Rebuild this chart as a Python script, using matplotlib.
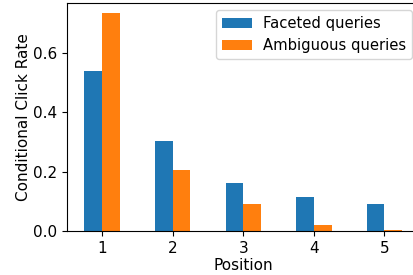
import matplotlib
matplotlib.use("Agg")
import matplotlib.pyplot as plt
import numpy as np

positions = [1, 2, 3, 4, 5]
faceted = [0.537, 0.302, 0.161, 0.114, 0.091]
ambiguous = [0.732, 0.205, 0.091, 0.020, 0.002]
series_labels = ["Faceted queries", "Ambiguous queries"]

fig = plt.figure(figsize=(4.14, 2.75), dpi=100)
ax = fig.add_axes([0.161, 0.16, 0.853, 0.83])
x = np.array(positions)
w = 0.25
ax.bar(x - w / 2, faceted, w, color="#1f77b4", label=series_labels[0])
ax.bar(x + w / 2, ambiguous, w, color="#ff7f0e", label=series_labels[1])
ax.set_xticks(positions)
ax.set_xticklabels([str(p) for p in positions])
ax.set_xlim(0.5, 5.5)
ax.set_ylim(0, 0.768)
ax.set_yticks([0.0, 0.2, 0.4, 0.6])
ax.tick_params(labelsize=11)
ax.set_xlabel("Position", fontsize=11, labelpad=2)
ax.set_ylabel("Conditional Click Rate", fontsize=11, labelpad=1)
ax.legend(loc="upper right", fontsize=10.6)
fig.savefig("out.png", dpi=100)
